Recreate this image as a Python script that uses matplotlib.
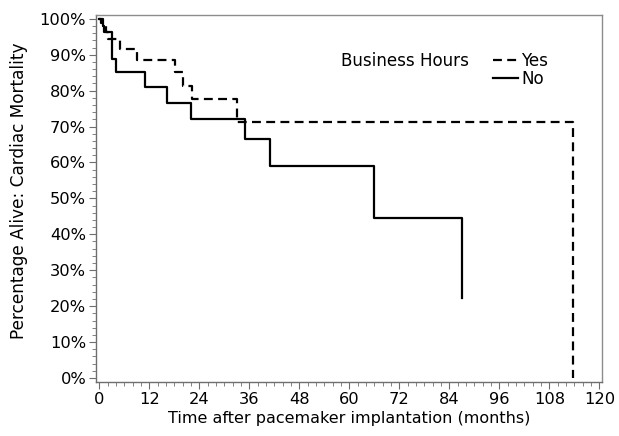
import matplotlib.pyplot as plt
from matplotlib.ticker import MultipleLocator, PercentFormatter

# Kaplan-Meier style survival (percent)
yes_time = [0, 0.5, 1.5, 2.2, 5.0, 9.0, 18.2, 20.1, 22.2, 33.0, 113.7]
yes_surv = [100, 98.8, 96.3, 94.4, 91.6, 88.6, 85.3, 81.3, 77.6, 71.4, 0]

no_time = [0, 0.8, 1.2, 3.0, 4.0, 11.0, 16.2, 22.0, 34.9, 40.9, 65.9, 86.9]
no_surv = [100, 98.0, 96.3, 88.8, 85.3, 81.0, 76.5, 72.1, 66.5, 59.1, 44.5, 22.2]

x_ticks = list(range(0, 121, 12))
y_ticks = list(range(0, 101, 10))

plt.rcParams['font.family'] = ['DejaVu Sans']

fig = plt.figure(figsize=(6.19, 4.36), dpi=100)
ax = fig.add_axes([0.155, 0.124, 0.8175, 0.842])

ax.step(yes_time, yes_surv, where='post', color='black', lw=1.6,
        linestyle=(0, (4, 2.4)), label='Yes')
ax.step(no_time, no_surv, where='post', color='black', lw=1.6, label='No')

ax.set_xlim(-0.8, 120.6)
ax.set_ylim(-1.1, 101.1)
ax.set_xticks(x_ticks)
ax.set_yticks(y_ticks)
ax.xaxis.set_minor_locator(MultipleLocator(2))
ax.yaxis.set_minor_locator(MultipleLocator(2))
ax.yaxis.set_major_formatter(PercentFormatter(decimals=0))

for s in ax.spines.values():
    s.set_color('#8c8c8c')
    s.set_linewidth(1.0)
ax.spines['left'].set_color('#6e6e6e')
ax.spines['bottom'].set_color('#6e6e6e')
ax.tick_params(which='major', length=5, color='#6e6e6e', labelsize=11.7, pad=2)
ax.tick_params(which='minor', length=3, color='#6e6e6e')

ax.set_xlabel('Time after pacemaker implantation (months)', fontsize=11.5, labelpad=3)
ax.set_ylabel('Percentage Alive: Cardiac Mortality', fontsize=12.2)
ax.yaxis.set_label_coords(-0.135, 0.52)

fig.text(0.551, 0.861, 'Business Hours', fontsize=12.1, va='center', ha='left')
ax.legend(loc='upper left', bbox_to_anchor=(0.785, 0.898), frameon=False,
          fontsize=12.1, handlelength=1.45, handletextpad=0.2,
          labelspacing=0.0, borderaxespad=0, borderpad=0)

fig.savefig('out.png', dpi=100)
